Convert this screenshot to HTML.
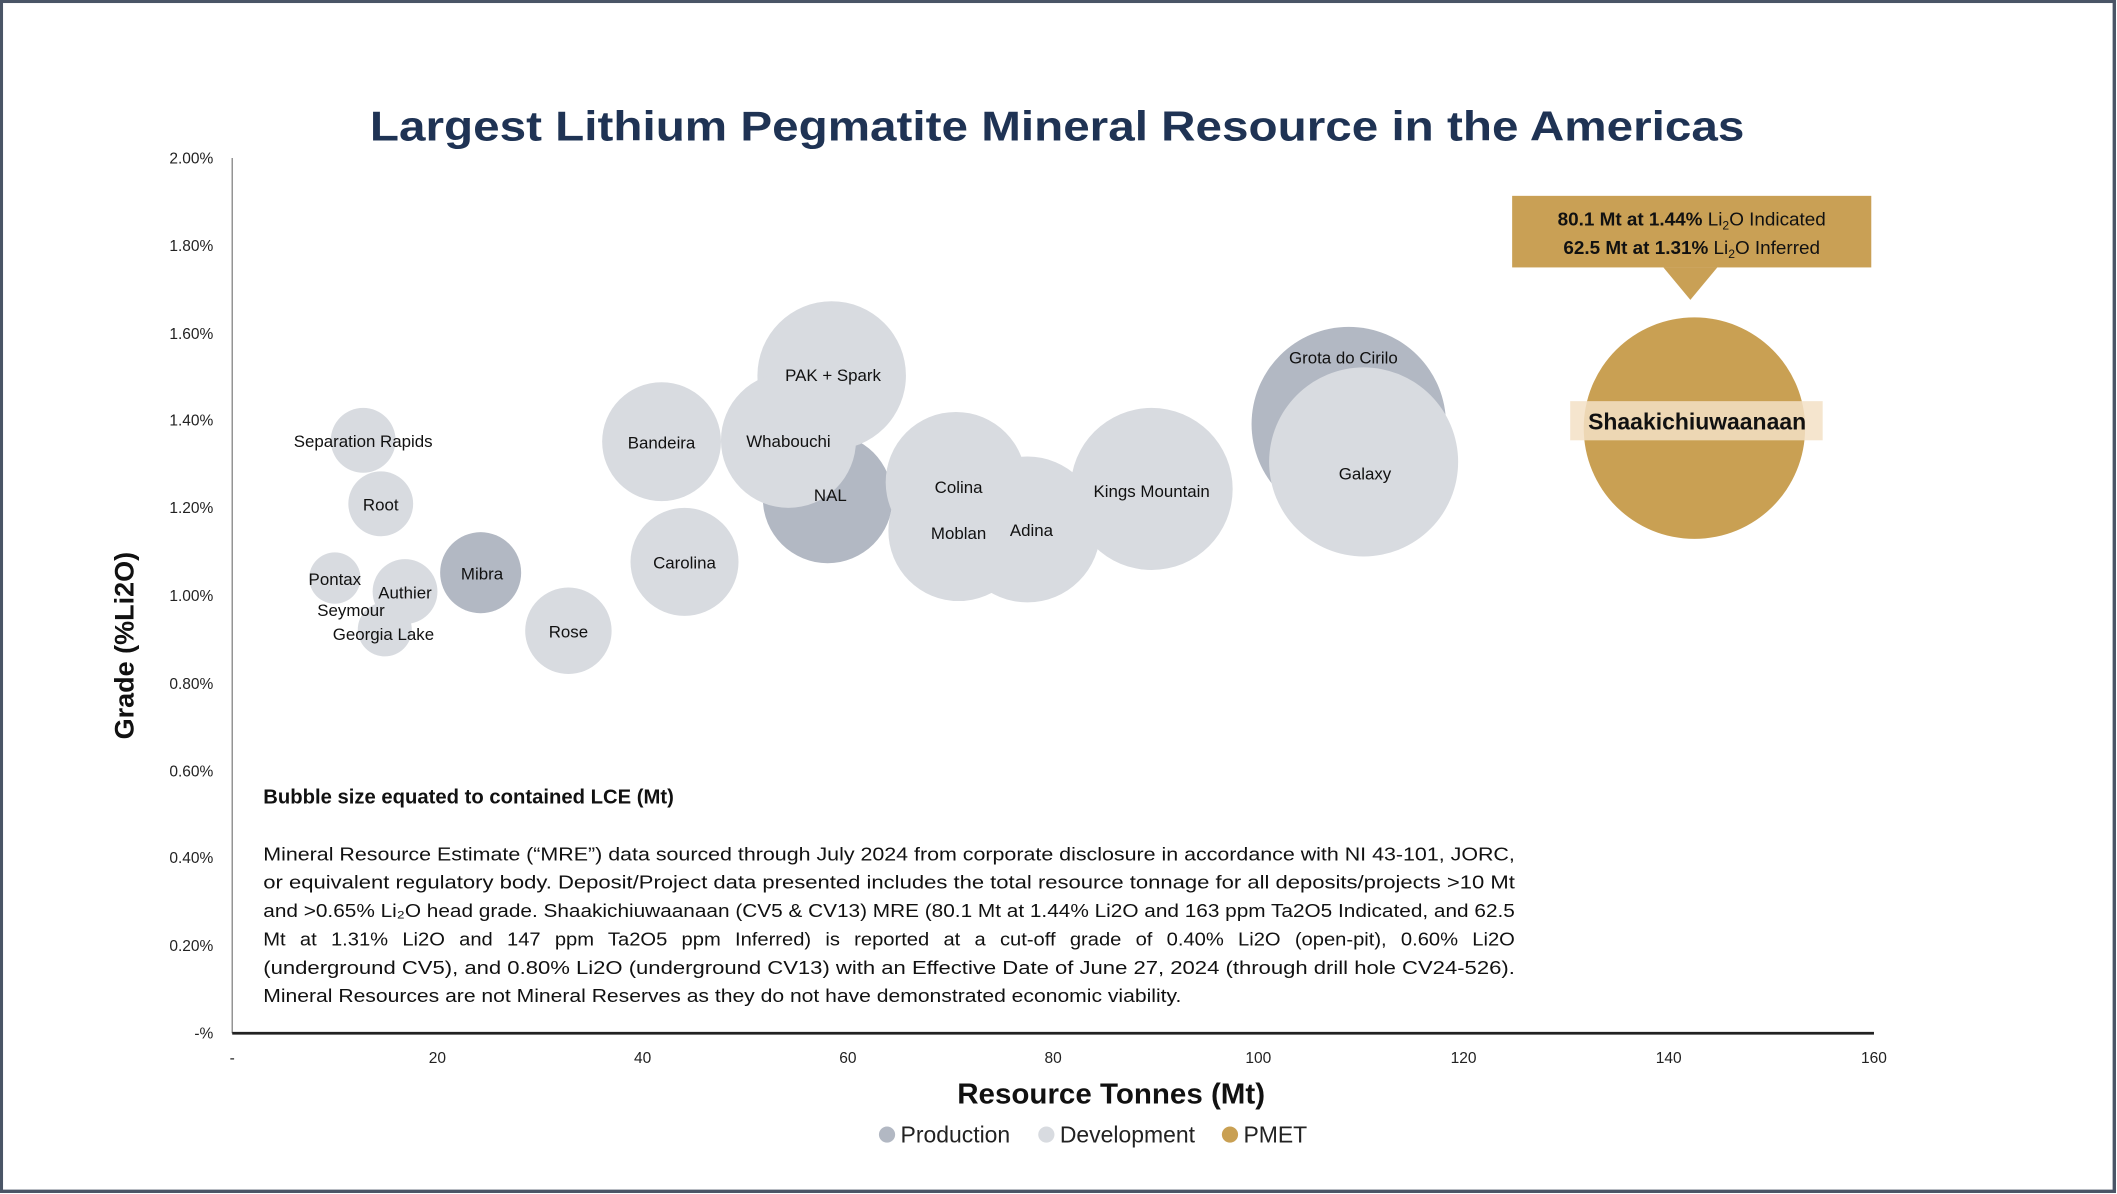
<!DOCTYPE html>
<html><head><meta charset="utf-8"><style>
html,body{margin:0;padding:0;background:#fff;}
svg{display:block;}
text{font-family:"Liberation Sans",sans-serif;}
</style></head><body>
<svg width="2117" height="1194" viewBox="0 0 1568 884" preserveAspectRatio="none" xmlns="http://www.w3.org/2000/svg">
<rect x="1" y="1" width="1565" height="881" fill="#fff" stroke="#4a5566" stroke-width="2.5"/>
<text x="783" y="104" text-anchor="middle" font-size="31" font-weight="bold" fill="#1f3354" textLength="1018" lengthAdjust="spacingAndGlyphs">Largest Lithium Pegmatite Mineral Resource in the Americas</text>

<line x1="172" y1="117" x2="172" y2="765" stroke="#888" stroke-width="1"/>
<line x1="172" y1="765" x2="1388" y2="765" stroke="#222" stroke-width="2"/>
<g font-size="11.5" fill="#222" text-anchor="end">
<text x="158" y="121">2.00%</text>
<text x="158" y="186">1.80%</text>
<text x="158" y="251">1.60%</text>
<text x="158" y="315">1.40%</text>
<text x="158" y="380">1.20%</text>
<text x="158" y="445">1.00%</text>
<text x="158" y="510">0.80%</text>
<text x="158" y="575">0.60%</text>
<text x="158" y="639">0.40%</text>
<text x="158" y="704">0.20%</text>
<text x="158" y="769">-%</text>
</g>
<g font-size="11.5" fill="#222" text-anchor="middle">
<text x="172" y="787">-</text>
<text x="324" y="787">20</text>
<text x="476" y="787">40</text>
<text x="628" y="787">60</text>
<text x="780" y="787">80</text>
<text x="932" y="787">100</text>
<text x="1084" y="787">120</text>
<text x="1236" y="787">140</text>
<text x="1388" y="787">160</text>
</g>
<text transform="translate(99,478) rotate(-90)" text-anchor="middle" font-size="20" font-weight="bold" fill="#111">Grade (%Li2O)</text>
<text x="823" y="817" text-anchor="middle" font-size="21" font-weight="bold" fill="#111" textLength="228" lengthAdjust="spacingAndGlyphs">Resource Tonnes (Mt)</text>

<circle cx="657" cy="840" r="6" fill="#b2b8c3"/>
<text x="667" y="846" font-size="17" fill="#222">Production</text>
<circle cx="775" cy="840" r="6" fill="#d8dbe0"/>
<text x="785" y="846" font-size="17" fill="#222">Development</text>
<circle cx="911" cy="840" r="6" fill="#c9a053"/>
<text x="921" y="846" font-size="17" fill="#222">PMET</text>

<g>
<circle cx="269" cy="326" r="24" fill="#d8dbe0"/>
<circle cx="282" cy="373" r="24" fill="#d8dbe0"/>
<circle cx="248" cy="428" r="19" fill="#d8dbe0"/>
<circle cx="285" cy="466" r="20" fill="#d8dbe0"/>
<circle cx="300" cy="438" r="24" fill="#d8dbe0"/>
<circle cx="356" cy="424" r="30" fill="#b2b8c3"/>
<circle cx="421" cy="467" r="32" fill="#d8dbe0"/>
<circle cx="507" cy="416" r="40" fill="#d8dbe0"/>
<circle cx="490" cy="327" r="44" fill="#d8dbe0"/>
<circle cx="613" cy="369" r="48" fill="#b2b8c3"/>
<circle cx="616" cy="278" r="55" fill="#d8dbe0"/>
<circle cx="584" cy="326" r="50" fill="#d8dbe0"/>
<circle cx="708" cy="357" r="52" fill="#d8dbe0"/>
<circle cx="710" cy="393" r="52" fill="#d8dbe0"/>
<circle cx="761" cy="392" r="54" fill="#d8dbe0"/>
<circle cx="853" cy="362" r="60" fill="#d8dbe0"/>
<circle cx="999" cy="314" r="72" fill="#b2b8c3"/>
<circle cx="1010" cy="342" r="70" fill="#d8dbe0"/>
<circle cx="1255" cy="317" r="82" fill="#c9a053"/>
</g>
<g font-size="12.5" fill="#111" text-anchor="middle">
<text x="269" y="331">Separation Rapids</text>
<text x="282" y="378">Root</text>
<text x="248" y="433">Pontax</text>
<text x="300" y="443">Authier</text>
<text x="260" y="456">Seymour</text>
<text x="284" y="474">Georgia Lake</text>
<text x="357" y="429">Mibra</text>
<text x="421" y="472">Rose</text>
<text x="507" y="421">Carolina</text>
<text x="490" y="332">Bandeira</text>
<text x="615" y="371">NAL</text>
<text x="617" y="282">PAK + Spark</text>
<text x="584" y="331">Whabouchi</text>
<text x="710" y="365">Colina</text>
<text x="710" y="399">Moblan</text>
<text x="764" y="397">Adina</text>
<text x="853" y="368">Kings Mountain</text>
<text x="995" y="269">Grota do Cirilo</text>
<text x="1011" y="355">Galaxy</text>
</g>
<rect x="1163" y="297" width="187" height="29" fill="#f3e0c6" opacity="0.85"/>
<text x="1257" y="318" text-anchor="middle" font-size="17" font-weight="bold" fill="#111">Shaakichiuwaanaan</text>

<rect x="1120" y="145" width="266" height="53" fill="#c9a055"/>
<polygon points="1232,198 1272,198 1252,222" fill="#c9a055"/>
<text x="1253" y="167" text-anchor="middle" font-size="14" fill="#111"><tspan font-weight="bold">80.1 Mt at 1.44%</tspan> Li<tspan font-size="9" dy="3">2</tspan><tspan dy="-3">O Indicated</tspan></text>
<text x="1253" y="188" text-anchor="middle" font-size="14" fill="#111"><tspan font-weight="bold">62.5 Mt at 1.31%</tspan> Li<tspan font-size="9" dy="3">2</tspan><tspan dy="-3">O Inferred</tspan></text>

<text x="195" y="595" font-size="15" font-weight="bold" fill="#111">Bubble size equated to contained LCE (Mt)</text>
<g font-size="14" fill="#111">
<text x="195" y="637" textLength="927" lengthAdjust="spacingAndGlyphs">Mineral Resource Estimate (“MRE”) data sourced through July 2024 from corporate disclosure in accordance with NI 43-101, JORC,</text>
<text x="195" y="658" textLength="927" lengthAdjust="spacingAndGlyphs">or equivalent regulatory body. Deposit/Project data presented includes the total resource tonnage for all deposits/projects &gt;10 Mt</text>
<text x="195" y="679" textLength="927" lengthAdjust="spacingAndGlyphs">and &gt;0.65% Li₂O head grade. Shaakichiuwaanaan (CV5 &amp; CV13) MRE (80.1 Mt at 1.44% Li2O and 163 ppm Ta2O5 Indicated, and 62.5</text>
<text x="195" y="700" textLength="927" lengthAdjust="spacingAndGlyphs" word-spacing="6">Mt at 1.31% Li2O and 147 ppm Ta2O5 ppm Inferred) is reported at a cut-off grade of 0.40% Li2O (open-pit), 0.60% Li2O</text>
<text x="195" y="721" textLength="927" lengthAdjust="spacingAndGlyphs">(underground CV5), and 0.80% Li2O (underground CV13) with an Effective Date of June 27, 2024 (through drill hole CV24-526).</text>
<text x="195" y="742" textLength="680" lengthAdjust="spacingAndGlyphs">Mineral Resources are not Mineral Reserves as they do not have demonstrated economic viability.</text>
</g>
</svg>
</body></html>
